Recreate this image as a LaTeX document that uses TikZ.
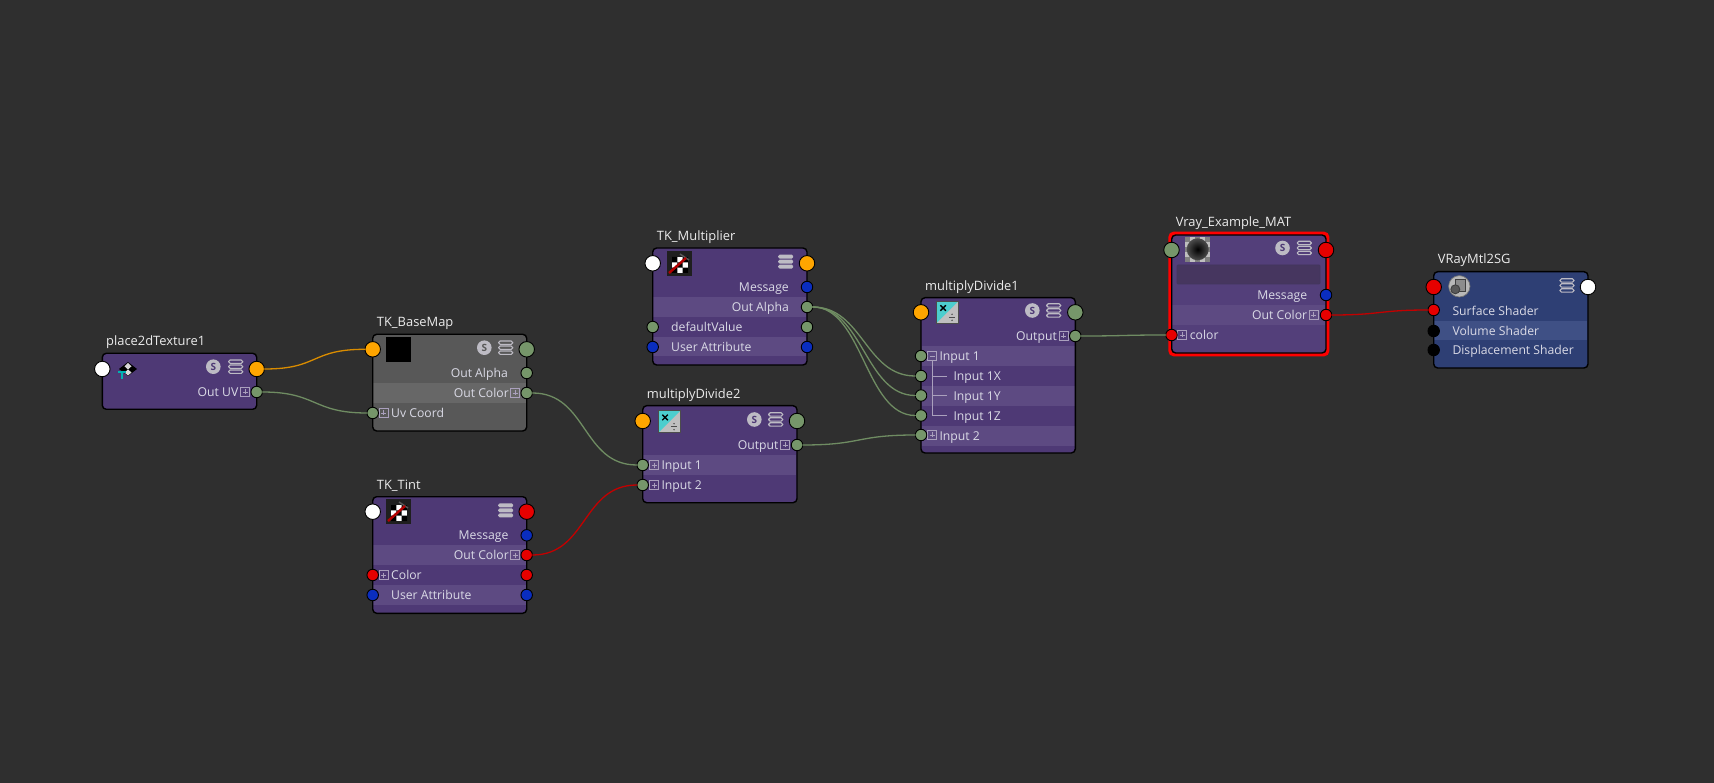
\documentclass[tikz,border=0pt]{standalone}
\usepackage{fontspec}
\setmainfont{Open Sans}
\usetikzlibrary{calc}
\definecolor{bgc}{HTML}{2F2F2F}
\definecolor{purp}{HTML}{4E3975}
\definecolor{purpL}{HTML}{5D4A82}
\definecolor{greyB}{HTML}{585858}
\definecolor{greyL}{HTML}{676767}
\definecolor{blueB}{HTML}{2E3F74}
\definecolor{blueL}{HTML}{3F5085}
\definecolor{pgreen}{HTML}{76966A}
\definecolor{wgreen}{HTML}{6F8C62}
\definecolor{pred}{HTML}{E60000}
\definecolor{pblue}{HTML}{0A2DBF}
\definecolor{porange}{HTML}{FFA500}
\definecolor{txtc}{HTML}{DADAE6}
\definecolor{icong}{HTML}{BDBBC4}
\definecolor{namefld}{HTML}{46365F}
\tikzset{
 panel/.style={anchor=north west,inner sep=0pt,outer sep=0pt,rounded corners=4pt},
 outline/.style={draw=black,line width=1.4pt,rounded corners=4pt},
 bigport/.style={circle,draw=black,line width=0.9pt,minimum size=15.5pt,inner sep=0pt,outer sep=0pt},
 smallport/.style={circle,draw=black,line width=0.9pt,minimum size=11.5pt,inner sep=0pt,outer sep=0pt},
 title/.style={anchor=west,inner sep=0pt,yshift=-1.3pt,text=white!92!black,font=\fontsize{12.9}{14}\selectfont},
 rtext/.style={anchor=east,inner sep=0pt,yshift=-1pt,text=txtc,font=\fontsize{12.2}{14}\selectfont,text height=9pt,text depth=2.5pt},
 ltext/.style={anchor=west,inner sep=0pt,yshift=-1pt,text=txtc,font=\fontsize{12.2}{14}\selectfont,text height=9pt,text depth=2.5pt},
 wire/.style={line width=1.3pt,line cap=round},
 greenwire/.style={wire,draw=wgreen},
 orangewire/.style={wire,draw=porange!85!black},
 redwire/.style={wire,draw=pred!85!black},
 plusbox/.style={draw=white!52!purp,line width=0.7pt},
 treeline/.style={draw=white!52!purp,line width=0.8pt},
}
\newcommand{\rowfill}[5]{\fill[#5] (#1,#2) rectangle (#3,#4);}
\newcommand{\plusb}[2]{\draw[plusbox] (#1-4.5,#2-4.5) rectangle (#1+4.5,#2+4.5) (#1-2.5,#2) -- (#1+2.5,#2) (#1,#2-2.5) -- (#1,#2+2.5);}
\newcommand{\minusb}[2]{\draw[plusbox] (#1-4.5,#2-4.5) rectangle (#1+4.5,#2+4.5) (#1-2.5,#2) -- (#1+2.5,#2);}
\newcommand{\sicon}[3]{\fill[icong] (#1,#2) circle (7.3pt);\node[inner sep=0pt,text=#3,font=\bfseries\fontsize{10}{10}\selectfont] at (#1,#2) {S};}
\newcommand{\hamo}[2]{\foreach \dy in {-5,0,5}{\draw[icong,line width=1.1pt,rounded corners=1.5pt] (#1-7,#2+\dy-1.7) rectangle (#1+7,#2+\dy+1.7);}}
\newcommand{\hamf}[2]{\foreach \dy in {-5,0,5}{\fill[icong,rounded corners=1.5pt] (#1-7.5,#2+\dy-2) rectangle (#1+7.5,#2+\dy+2);}}
% checker/texture-with-wrench icon, top-left corner given
\newcommand{\chk}[2]{\begin{scope}[shift={(#1,#2)}]
 \fill[black!88!white] (0,0) rectangle (25,25);
 \fill[white] (5,6) rectangle (21,22);
 \fill[black] (5,6) rectangle (10.3,11.3) (15.7,6) rectangle (21,11.3) (10.3,11.3) rectangle (15.7,16.7) (5,16.7) rectangle (10.3,22) (15.7,16.7) rectangle (21,22);
 \draw[draw=black!65,line width=1.5pt] (13,3) -- (22,9);
 \draw[draw=red!70!black,line width=2.4pt] (2,22) -- (19,7);
\end{scope}}
% multiply-divide icon
\newcommand{\mdiv}[2]{\begin{scope}[shift={(#1,#2)}]
 \fill[white!75!black] (0,0) rectangle (22,22);
 \fill[teal!55!cyan!70!white] (0,0) -- (22,0) -- (0,22) -- cycle;
 \draw[black!70,line width=0.6pt] (0,0) rectangle (22,22);
 \draw[black,line width=1.4pt] (4,4) -- (9.5,9.5) (9.5,4) -- (4,9.5);
 \draw[black!70,line width=1pt] (12.5,16) -- (19,16);
 \fill[black!70] (15.7,13) circle (0.8pt) (15.7,19) circle (0.8pt);
\end{scope}}
\begin{document}
\begin{tikzpicture}[x=1pt,y=-1pt]
\useasboundingbox (0,0) rectangle (1714,783);
\fill[bgc] (0,0) rectangle (1714,783);

%% ------- place2dTexture1
\node[panel,fill=purp,minimum width=154.4pt,minimum height=56pt] (place) at (102.3,353.3) {};
\draw[outline] (place.north west) rectangle (place.south east);
\node[title] (placeT) at (106,341) {place2dTexture1};
\sicon{213.3}{366.7}{purp}\hamo{235.7}{366.7}
\begin{scope}[shift={(128,369)}]
 \fill[black] (0,-7) -- (9,0) -- (0,7) -- (-9,0) -- cycle;
 \fill[white!85!black] (0,-6) -- (3.5,-2.7) -- (0,0.5) -- (-3.5,-2.7) -- cycle;
 \fill[white!85!black] (0,0.5) -- (3.5,3.5) -- (0,6.5) -- (-3.5,3.5) -- cycle;
 \draw[draw=teal!60!cyan,line width=2pt] (-10,3.5) -- (-2,3.5) (-6,3.5) -- (-6,10);
\end{scope}
\node[rtext] (placeUV) at (238.5,392) {Out UV};
\plusb{245}{392}
\node[bigport,fill=white] (pMsgIn) at (102.3,369) {};
\node[bigport,fill=porange] (pOut) at (256.7,369) {};
\node[smallport,fill=pgreen] (pUV) at (256.7,392) {};

%% ------- TK_BaseMap
\node[panel,fill=greyB,minimum width=154pt,minimum height=96.7pt] (base) at (372.7,334.3) {};
\rowfill{373.4}{382.7}{526}{402.7}{greyL}
\draw[outline] (base.north west) rectangle (base.south east);
\node[title] (baseT) at (376.7,322.5) {TK\_BaseMap};
\fill[black] (386,336.7) rectangle (411,362);
\sicon{484.3}{347.7}{greyB}\hamo{505.7}{347.7}
\node[rtext] (baseA) at (508,373) {Out Alpha};
\node[rtext] (baseC) at (509,393) {Out Color};
\plusb{515}{393}
\node[ltext] (baseU) at (391,413) {Uv Coord};
\plusb{383.7}{413}
\node[bigport,fill=porange] (bIn) at (372.7,349.3) {};
\node[bigport,fill=pgreen] (bOut) at (526.7,349.3) {};
\node[smallport,fill=pgreen] (bAlpha) at (526.7,373) {};
\node[smallport,fill=pgreen] (bColor) at (526.7,393) {};
\node[smallport,fill=pgreen] (bUV) at (372.7,413) {};

%% ------- TK_Tint
\node[panel,fill=purp,minimum width=154pt,minimum height=116.6pt] (tint) at (372.7,496.7) {};
\rowfill{373.4}{545}{526}{565}{purpL}
\rowfill{373.4}{585}{526}{605}{purpL}
\draw[outline] (tint.north west) rectangle (tint.south east);
\node[title] (tintT) at (376.7,484.5) {TK\_Tint};
\chk{386}{499}\hamf{505.7}{510.3}
\node[rtext] (tintM) at (508.7,535.5) {Message};
\node[rtext] (tintC) at (509,555) {Out Color};
\plusb{515}{555}
\node[ltext] (tintCo) at (391,575) {Color};
\plusb{383.7}{575}
\node[ltext] (tintU) at (391,595) {User Attribute};
\node[bigport,fill=white] (tIn) at (372.7,511.7) {};
\node[bigport,fill=pred] (tOut) at (526.7,511.7) {};
\node[smallport,fill=pblue] (tMsg) at (526.7,535.3) {};
\node[smallport,fill=pred] (tCol) at (526.7,555) {};
\node[smallport,fill=pred] (tColIn) at (372.7,575) {};
\node[smallport,fill=pred] (tColR) at (526.7,575) {};
\node[smallport,fill=pblue] (tUA) at (372.7,595) {};
\node[smallport,fill=pblue] (tUAR) at (526.7,595) {};

%% ------- TK_Multiplier
\node[panel,fill=purp,minimum width=154.3pt,minimum height=117pt] (mult) at (652.7,248) {};
\rowfill{653.4}{296.7}{806.3}{316.7}{purpL}
\rowfill{653.4}{336.7}{806.3}{356}{purpL}
\draw[outline] (mult.north west) rectangle (mult.south east);
\node[title] (multT) at (656.7,235.5) {TK\_Multiplier};
\chk{667}{251}\hamf{785.7}{261.7}
\node[rtext] (multM) at (789,287.5) {Message};
\node[rtext] (multA) at (789,307.5) {Out Alpha};
\node[ltext] (multD) at (671,327.5) {defaultValue};
\node[ltext] (multU) at (671,347.5) {User Attribute};
\node[bigport,fill=white] (mIn) at (652.7,263.3) {};
\node[bigport,fill=porange] (mOut) at (807,263.3) {};
\node[smallport,fill=pblue] (mMsg) at (807,287) {};
\node[smallport,fill=pgreen] (mAlpha) at (807,307) {};
\node[smallport,fill=pgreen] (mDef) at (652.7,327) {};
\node[smallport,fill=pgreen] (mDefR) at (807,327) {};
\node[smallport,fill=pblue] (mUA) at (652.7,347) {};
\node[smallport,fill=pblue] (mUAR) at (807,347) {};

%% ------- multiplyDivide2
\node[panel,fill=purp,minimum width=154.3pt,minimum height=97pt] (mdb) at (642.7,405.7) {};
\rowfill{643.4}{455}{796.3}{475}{purpL}
\draw[outline] (mdb.north west) rectangle (mdb.south east);
\node[title] (mdbT) at (646.7,393.5) {multiplyDivide2};
\mdiv{658.3}{410.7}
\sicon{754.3}{419.5}{purp}\hamo{775.7}{419.5}
\node[rtext] (mdbO) at (778.7,445.5) {Output};
\plusb{785}{445}
\node[ltext] (mdbI) at (661.3,465.5) {Input 1};
\plusb{654}{465}
\node[ltext] (mdbJ) at (661.3,485.5) {Input 2};
\plusb{654}{485}
\node[bigport,fill=porange] (dbIn) at (642.7,421) {};
\node[bigport,fill=pgreen] (dbOut) at (797,421) {};
\node[smallport,fill=pgreen] (dbO) at (797,445) {};
\node[smallport,fill=pgreen] (dbI1) at (642.7,465) {};
\node[smallport,fill=pgreen] (dbI2) at (642.7,485) {};

%% ------- multiplyDivide1
\node[panel,fill=purp,minimum width=154.3pt,minimum height=155.3pt] (mda) at (921,297.7) {};
\rowfill{921.7}{346}{1074.6}{366}{purpL}
\rowfill{921.7}{386}{1074.6}{406}{purpL}
\rowfill{921.7}{426}{1074.6}{446}{purpL}
\draw[outline] (mda.north west) rectangle (mda.south east);
\node[title] (mdaT) at (925,285.5) {multiplyDivide1};
\mdiv{936.3}{301.3}
\sicon{1032.3}{310.5}{purp}\hamo{1053.7}{310.5}
\node[rtext] (mdaO) at (1057,336.5) {Output};
\plusb{1063.7}{336}
\node[ltext] (mdaI) at (939.3,356.5) {Input 1};
\minusb{932}{356}
\draw[treeline] (932.3,360.5) -- (932.3,415.5) (932.3,376) -- (946.7,376) (932.3,395.5) -- (946.7,395.5) (932.3,415.5) -- (946.7,415.5);
\node[ltext] (mdaX) at (953.3,376.5) {Input 1X};
\node[ltext] (mdaY) at (953.3,396.5) {Input 1Y};
\node[ltext] (mdaZ) at (953.3,416.5) {Input 1Z};
\node[ltext] (mdaJ) at (939.3,436.5) {Input 2};
\plusb{932}{435}
\node[bigport,fill=porange] (daIn) at (921,312.3) {};
\node[bigport,fill=pgreen] (daOut) at (1075.3,312.3) {};
\node[smallport,fill=pgreen] (daO) at (1075.3,336) {};
\node[smallport,fill=pgreen] (daI1) at (921,356) {};
\node[smallport,fill=pgreen] (daX) at (921,376) {};
\node[smallport,fill=pgreen] (daY) at (921,395.5) {};
\node[smallport,fill=pgreen] (daZ) at (921,415.5) {};
\node[smallport,fill=pgreen] (daI2) at (921,435) {};

%% ------- Vray_Example_MAT
\node[panel,fill=purpL!35!purp,minimum width=154.3pt,minimum height=118pt] (mat) at (1171.7,235) {};
\rowfill{1172.4}{305}{1325.3}{325}{purpL}
\draw[draw=red,line width=3.4pt,rounded corners=4pt] ($(mat.north west)+(-1.7,-1.7)$) rectangle ($(mat.south east)+(1.7,1.7)$);
\draw[outline] (mat.north west) rectangle (mat.south east);
\node[title] (matT) at (1175.7,222.3) {Vray\_Example\_MAT};
\fill[white!75!black] (1185,236.7) rectangle (1210,261.7);
\foreach \i in {0,2,4}{\foreach \j in {0,2,4}{\fill[white!50!black] (1185+\i*5,236.7+\j*5) rectangle (1190+\i*5,241.7+\j*5);}}
\shade[inner color=black,outer color=black!70] (1197.7,249.3) circle (11pt);
\fill[rounded corners=1pt,fill=namefld,draw=purp!65!bgc,line width=0.8pt] (1177,265) rectangle (1320,284);
\sicon{1282.5}{248}{purp}\hamo{1304.3}{248}
\node[rtext] (matM) at (1307.3,295.5) {Message};
\node[rtext] (matC) at (1307.3,315.5) {Out Color};
\plusb{1313.7}{315}
\node[ltext] (matCo) at (1189.7,335.5) {color};
\plusb{1182.3}{335}
\node[bigport,fill=pgreen] (vIn) at (1171.5,250) {};
\node[bigport,fill=pred] (vOut) at (1326,250) {};
\node[smallport,fill=pblue] (vMsg) at (1326,295) {};
\node[smallport,fill=pred] (vCol) at (1326,315) {};
\node[smallport,fill=pred] (vColIn) at (1171.5,335) {};

%% ------- VRayMtl2SG
\node[panel,fill=blueB,minimum width=154.3pt,minimum height=96.3pt] (sg) at (1433.7,271.7) {};
\rowfill{1434.4}{320.7}{1587.3}{340}{blueL}
\draw[outline] (sg.north west) rectangle (sg.south east);
\node[title] (sgT) at (1437.7,259) {VRayMtl2SG};
\begin{scope}[shift={(1459.3,286.3)}]
 \fill[white!72!black] (0,0) circle (10.7pt);
 \draw[black!55,line width=0.7pt] (0,0) circle (10.7pt);
 \draw[black!75,fill=white!55!black,line width=0.9pt] (-4,-7) rectangle (6,5);
 \draw[black!75,fill=white!35!black,line width=0.9pt] (-4,3) circle (4.5pt);
\end{scope}
\hamo{1567}{285.5}
\node[ltext] (sgS) at (1452.3,311) {Surface Shader};
\node[ltext] (sgV) at (1452.3,331) {Volume Shader};
\node[ltext] (sgD) at (1452.3,350.5) {Displacement Shader};
\node[bigport,fill=pred] (sIn) at (1433.7,287) {};
\node[bigport,fill=white] (sOut) at (1588,287) {};
\node[smallport,fill=pred] (sS) at (1433.7,310) {};
\node[smallport,fill=black] (sV) at (1433.7,331) {};
\node[smallport,fill=black] (sD) at (1433.7,350) {};

%% ------- connectors
\draw[orangewire] (pOut.east) .. controls +(55,0) and +(-55,0) .. (bIn.west);
\draw[greenwire] (pUV.east) .. controls +(55,0) and +(-55,0) .. (bUV.west);
\draw[greenwire] (bColor.east) .. controls +(55,0) and +(-55,0) .. (dbI1.west);
\draw[redwire] (tCol.east) .. controls +(55,0) and +(-55,0) .. (dbI2.west);
\draw[greenwire] (dbO.east) .. controls +(60,0) and +(-60,0) .. (daI2.west);
\draw[greenwire] (mAlpha.east) .. controls +(50,0) and +(-50,0) .. (daX.west);
\draw[greenwire] (mAlpha.east) .. controls +(50,0) and +(-50,0) .. (daY.west);
\draw[greenwire] (mAlpha.east) .. controls +(50,0) and +(-50,0) .. (daZ.west);
\draw[greenwire] (daO.east) .. controls +(45,0) and +(-45,0) .. (vColIn.west);
\draw[redwire] (vCol.east) .. controls +(50,0) and +(-50,0) .. (sS.west);
\end{tikzpicture}
\end{document}
